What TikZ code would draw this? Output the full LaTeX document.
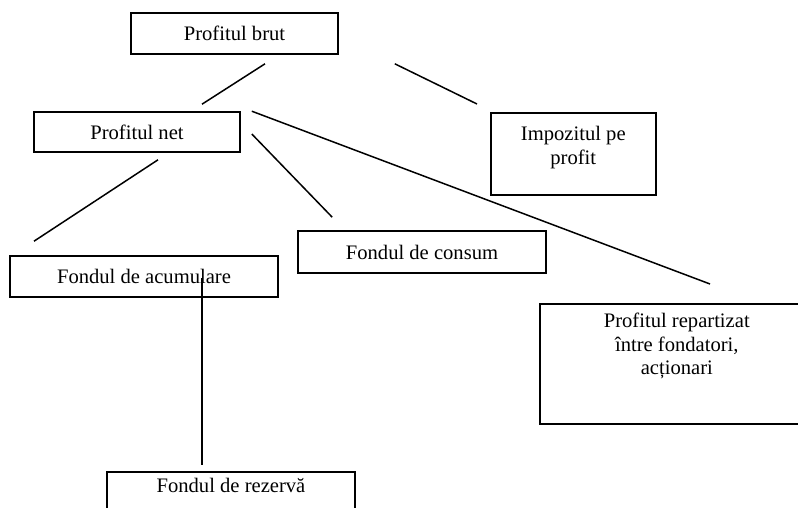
\documentclass[tikz,border=0pt]{standalone}
\usepackage{fontspec}
\setmainfont{Liberation Serif}

\begin{document}
\begin{tikzpicture}[x=1pt,y=-1pt]

\tikzset{
box/.style={rectangle,draw,line width=1.6pt,inner sep=0pt},
link/.style={-,line width=1.5pt},
font={\fontsize{20.6pt}{23.5pt}\selectfont}
}
\useasboundingbox (0,0) rectangle (798,508);

% vertices
\node[box, minimum width=207, minimum height=41] (1) at (234.5,33.5) {Profitul brut};
\node[box, minimum width=206, minimum height=40] (2) at (137,132) {Profitul net};
\node[box, anchor=north west] (3) at (490,112)
  {\parbox[c][82pt][t]{165pt}{\centering\rule{0pt}{28pt}Impozitul pe\\profit}};
\node[box, minimum width=268, minimum height=41] (4) at (144,276.5) {Fondul de acumulare};
\node[box, minimum width=248, minimum height=42] (5) at (422,252) {Fondul de consum};
\node[box, anchor=north west] (6) at (539,303)
  {\parbox[c][120pt][t]{274pt}{\centering\rule{0pt}{24pt}Profitul repartizat\\între fondatori,\\acționari}};
\node[box, anchor=north, minimum width=248, text height=21pt, text depth=22pt] (7) at (231,471) {Fondul de rezervă};

%edges
\path[link]
%   FROM                               TO
([shift={(30.5,9)}]1.south)     edge  ([shift={(65,-7)}]2.north)
([shift={(56,9)}]1.south east)  edge  ([shift={(-13,-8)}]3.north west)
([shift={(21,7)}]2.south)       edge  ([shift={(-110,-14)}]4.north)
([shift={(11,2)}]2.east)        edge  ([shift={(35,-13)}]5.north west)
([shift={(11,0)}]2.north east)  edge  ([shift={(171,-19)}]6.north west)
([shift={(58,1.5)}]4.center)    edge  ([shift={(-29,-6)}]7.north)
;

\end{tikzpicture}
\end{document}
